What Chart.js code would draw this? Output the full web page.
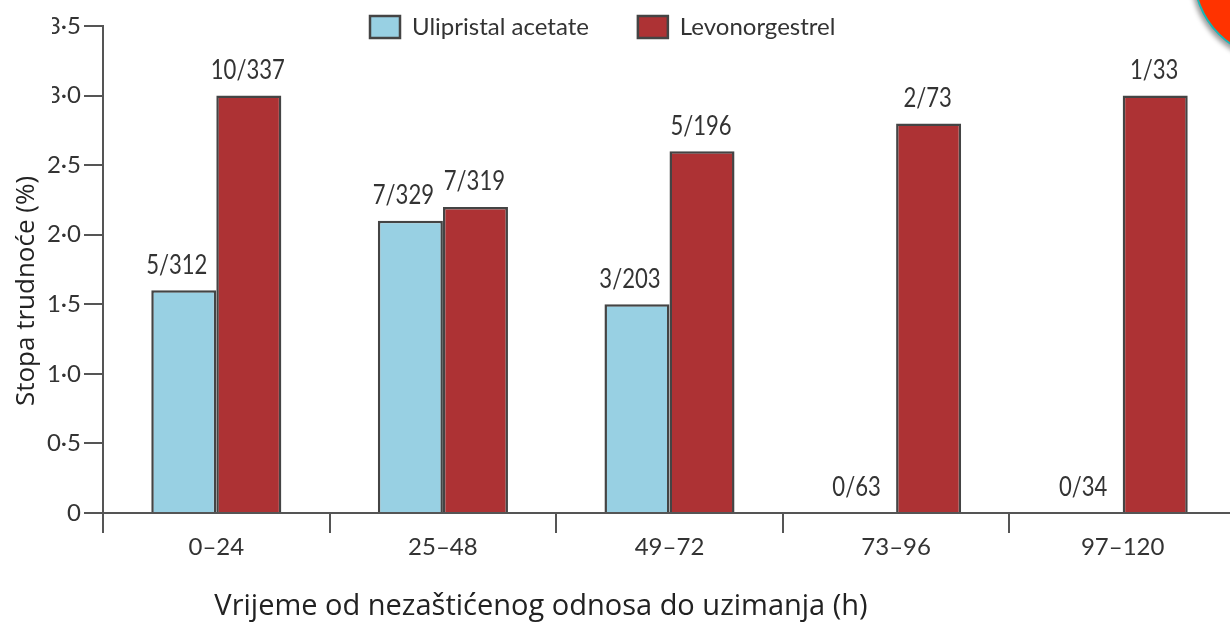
<!DOCTYPE html>
<html>
<head>
<meta charset="utf-8">
<script src="https://cdn.jsdelivr.net/npm/chart.js@4/dist/chart.umd.min.js"></script>
<style>
  html, body { margin: 0; padding: 0; background: #fff; width: 1230px; height: 623px; overflow: hidden; }
  #wrap { position: relative; width: 1230px; height: 623px; overflow: hidden; }
  canvas { position: absolute; left: 0; top: 0; }
  /* the source image is cropped on the left, this hides the start of the top two tick labels */
  #crop { position: absolute; left: 0; top: 0; width: 52px; height: 120px; background: #fff; }
  #badge { position: absolute; left: 1193px; top: -112px; width: 168px; height: 168px; border-radius: 50%;
           background: #ff3300; border: 2px solid #19b5b5; box-shadow: -2px 3px 5px rgba(0,0,0,0.4); }
</style>
</head>
<body>
<div id="wrap">
  <canvas id="chart" width="1240" height="623"></canvas>
  <div id="crop"></div>
  <div id="badge"></div>
</div>
<script>
var categories = ["0–24", "25–48", "49–72", "73–96", "97–120"];
var ulipristal = [1.6, 2.1, 1.5, 0, 0];
var levonorgestrel = [3.0, 2.2, 2.6, 2.8, 3.0];
var ulipristalCounts = ["5/312", "7/329", "3/203", "0/63", "0/34"];
var levonorgestrelCounts = ["10/337", "7/319", "5/196", "2/73", "1/33"];
var seriesNames = ["Ulipristal acetate", "Levonorgestrel"];
var xTitle = "Vrijeme od nezaštićenog odnosa do uzimanja (h)";
var yTitle = "Stopa trudnoće (%)";

var textColor = "#333";
var axisColor = "#555";
var labelFont = "Lato";

// puts n/N above each bar, squeezed a bit because the original face is narrow
var countLabels = {
  id: "countLabels",
  afterDatasetsDraw: function (chart) {
    var ctx = chart.ctx;
    var counts = [ulipristalCounts, levonorgestrelCounts];
    var shift = [-7, -1];
    ctx.save();
    ctx.font = "26px " + labelFont;
    ctx.fillStyle = textColor;
    ctx.textAlign = "center";
    ctx.textBaseline = "middle";
    counts.forEach(function (list, d) {
      chart.getDatasetMeta(d).data.forEach(function (bar, i) {
        ctx.fillText(list[i], bar.x + shift[d], bar.y - 25, ctx.measureText(list[i]).width * 0.85);
      });
    });
    ctx.restore();
  }
};

// axis titles sit off centre in the picture so scale.title can't place them
var axisTitles = {
  id: "axisTitles",
  afterDraw: function (chart) {
    var ctx = chart.ctx;
    ctx.save();
    ctx.fillStyle = "#222";
    ctx.textBaseline = "middle";
    ctx.textAlign = "center";
    ctx.font = "29px 'Open Sans'";
    ctx.fillText(xTitle, 541, 607);
    ctx.translate(27, 291);
    ctx.rotate(-Math.PI / 2);
    ctx.font = "26px 'Open Sans'";
    ctx.fillText(yTitle, 0, 0);
    ctx.restore();
  }
};

// legend takes no room in the layout, then gets moved to where it is in the picture
var legendPlace = {
  id: "legendPlace",
  beforeLayout: function (chart) {
    var legend = chart.legend;
    var fit = legend.fit;
    legend.fit = function () {
      fit.call(this);
      this.height = 0;
    };
  },
  afterLayout: function (chart) {
    chart.legend.left = 321;
    chart.legend.right = 1000;
    chart.legend.top = -34;
    chart.legend.bottom = 60;
  }
};

new Chart(document.getElementById("chart"), {
  type: "bar",
  data: {
    labels: categories,
    datasets: [
      { label: seriesNames[0], data: ulipristal, backgroundColor: "#98d0e3", borderColor: "#444", borderWidth: 2.5 },
      { label: seriesNames[1], data: levonorgestrel, backgroundColor: "#ad3234", borderColor: "#444", borderWidth: 2.5 }
    ]
  },
  options: {
    responsive: false,
    animation: false,
    categoryPercentage: 0.574,
    barPercentage: 1,
    layout: { padding: { top: 26, right: 4, left: 0, bottom: 0 } },
    plugins: {
      tooltip: { enabled: false },
      legend: {
        position: "top",
        align: "start",
        labels: {
          boxWidth: 30,
          boxHeight: 22,
          padding: 49,
          color: textColor,
          font: { family: labelFont, size: 24 }
        }
      }
    },
    scales: {
      x: {
        afterFit: function (axis) { axis.height = 110; },
        border: { color: axisColor, width: 2 },
        grid: { drawOnChartArea: false, color: axisColor, lineWidth: 2, tickLength: 20, tickWidth: 2 },
        ticks: { color: textColor, padding: 0, maxRotation: 0, font: { family: labelFont, size: 24 } }
      },
      y: {
        min: 0,
        max: 3.5,
        afterFit: function (axis) { axis.width = 103; },
        border: { color: axisColor, width: 2 },
        grid: { drawOnChartArea: false, color: axisColor, lineWidth: 2, tickLength: 19, tickWidth: 2 },
        ticks: {
          stepSize: 0.5,
          color: textColor,
          padding: 3,
          font: { family: labelFont, size: 24 },
          callback: function (v) { return v === 0 ? "0" : v.toFixed(1).replace(".", "·"); }
        }
      }
    }
  },
  plugins: [countLabels, axisTitles, legendPlace]
});
</script>
</body>
</html>
